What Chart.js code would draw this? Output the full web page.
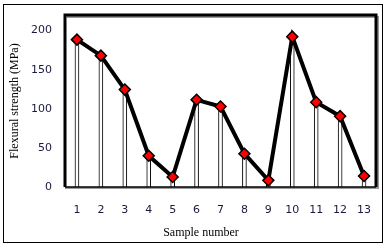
<!DOCTYPE html>
<html>
<head>
<meta charset="utf-8">
<script src="https://cdn.jsdelivr.net/npm/chart.js@4"></script>
<style>
  html, body { margin: 0; padding: 0; background: #fff; }
  #wrap { width: 387px; height: 247px; position: relative; }
</style>
</head>
<body>
<div id="wrap"><canvas id="myChart" width="387" height="247"></canvas></div>
<script>
// sample numbers along the bottom
var samples = ['1', '2', '3', '4', '5', '6', '7', '8', '9', '10', '11', '12', '13'];
// flexural strength (MPa)
var strength = [188.5, 168, 124.6, 40, 12.8, 111.5, 103, 42.6, 8.5, 192.3, 108.5, 90.6, 14];
var yTicks = [0, 50, 100, 150, 200];

// frame round the plot area and the outer box
var framePlugin = {
  id: 'frame',
  afterDraw: function (chart) {
    var ctx = chart.ctx;
    var a = chart.chartArea;
    ctx.save();
    ctx.strokeStyle = '#000';
    ctx.lineWidth = 1;
    ctx.strokeRect(3.5, 4.5, 379, 238);
    // plot frame, a bit of grey shadow like the original
    ctx.strokeStyle = '#9a9a9a';
    ctx.lineWidth = 2;
    ctx.beginPath();
    ctx.moveTo(a.left + 2, a.top + 2);
    ctx.lineTo(a.right + 2, a.top + 2);
    ctx.lineTo(a.right + 2, a.bottom + 1);
    ctx.lineTo(a.left, a.bottom + 1);
    ctx.stroke();
    ctx.strokeStyle = '#000';
    ctx.lineWidth = 3;
    ctx.beginPath();
    ctx.moveTo(a.left, a.bottom);
    ctx.lineTo(a.left, a.top);
    ctx.lineTo(a.right, a.top);
    ctx.lineTo(a.right, a.bottom);
    ctx.stroke();
    ctx.lineWidth = 1.5;
    ctx.beginPath();
    ctx.moveTo(a.left, a.bottom);
    ctx.lineTo(a.right, a.bottom);
    ctx.stroke();
    ctx.restore();
  }
};

new Chart(document.getElementById('myChart'), {
  type: 'bar',
  data: {
    labels: samples,
    datasets: [
      {
        type: 'line',
        data: strength,
        borderColor: '#000',
        borderWidth: 4,
        pointStyle: 'rectRot',
        pointRadius: 5.5,
        pointBackgroundColor: '#ff0000',
        pointBorderColor: '#000',
        pointBorderWidth: 1.5,
        tension: 0,
        order: 1
      },
      {
        type: 'bar',
        data: strength,
        backgroundColor: '#fff',
        borderColor: '#000',
        borderWidth: 1,
        barThickness: 4,
        order: 2
      }
    ]
  },
  plugins: [framePlugin],
  options: {
    responsive: false,
    animation: false,
    layout: { padding: { top: 15, right: 11, left: 0, bottom: 0 } },
    plugins: {
      legend: { display: false },
      tooltip: { enabled: false }
    },
    scales: {
      x: {
        grid: { display: false },
        border: { display: false },
        ticks: {
          color: '#1a1a40',
          font: { family: 'DejaVu Sans', size: 11 },
          padding: 9,
          maxRotation: 0
        },
        title: {
          display: true,
          text: 'Sample number             ',
          color: '#000',
          font: { family: 'Liberation Serif', size: 12 },
          padding: { top: 0, bottom: 7 }
        },
        afterFit: function (s) { s.height = 60; }
      },
      y: {
        min: 0,
        max: 220,
        grid: { display: false },
        border: { display: false },
        afterBuildTicks: function (s) {
          s.ticks = yTicks.map(function (v) { return { value: v }; });
        },
        ticks: {
          color: '#1a1a40',
          font: { family: 'DejaVu Sans', size: 11 },
          padding: 5
        },
        title: {
          display: true,
          text: 'Flexural strength (MPa)',
          color: '#000',
          font: { family: 'Liberation Serif', size: 12 },
          padding: { top: 8, bottom: 0 }
        },
        afterFit: function (s) { s.width = 65; }
      }
    }
  }
});
</script>
</body>
</html>
